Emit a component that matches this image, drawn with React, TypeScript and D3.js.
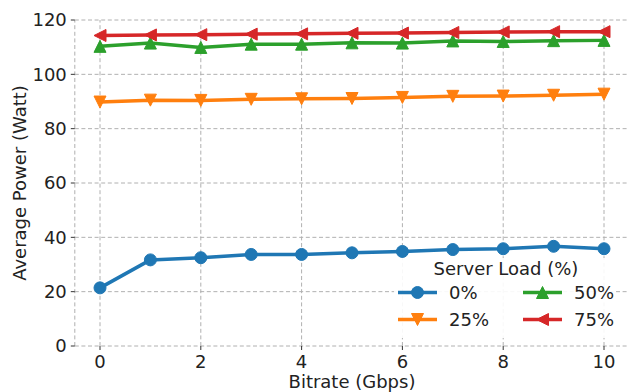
import React from "react";
import * as d3 from "d3";

const bitrates = [0, 1, 2, 3, 4, 5, 6, 7, 8, 9, 10];
const load0 = [21.4, 31.7, 32.5, 33.7, 33.7, 34.3, 34.8, 35.5, 35.8, 36.7, 35.8];
const load25 = [89.8, 90.5, 90.4, 90.8, 91.0, 91.1, 91.5, 91.9, 92.0, 92.3, 92.7];
const load50 = [110.3, 111.5, 109.9, 111.1, 111.1, 111.6, 111.5, 112.3, 112.1, 112.4, 112.5];
const load75 = [114.3, 114.5, 114.6, 114.8, 114.9, 115.1, 115.2, 115.4, 115.6, 115.7, 115.7];
const xTicks = [0, 2, 4, 6, 8, 10];
const yTicks = [0, 20, 40, 60, 80, 100, 120];

const series = [
  { name: "0%", values: load0, color: "#1f77b4", marker: "circle" },
  { name: "25%", values: load25, color: "#ff7f0e", marker: "down" },
  { name: "50%", values: load50, color: "#2ca02c", marker: "up" },
  { name: "75%", values: load75, color: "#d62728", marker: "left" },
];

const W = 628;
const H = 392;
const FONT = "DejaVu Sans, sans-serif";
const FS = 18;

const x = d3.scaleLinear().domain([-0.5, 10.5]).range([74.8, 629.2]);
const y = d3.scaleLinear().domain([0, 120]).range([346, 20]);

function Marker({ kind, cx, cy, color }: { kind: string; cx: number; cy: number; color: string }) {
  const r = 6;
  if (kind === "circle") {
    return <circle cx={cx} cy={cy} r={r} fill={color} stroke={color} strokeWidth={1} />;
  }
  let pts: [number, number][];
  if (kind === "up") pts = [[0, -r], [-r, r], [r, r]];
  else if (kind === "down") pts = [[0, r], [-r, -r], [r, -r]];
  else pts = [[-r, 0], [r, -r], [r, r]];
  const d = pts.map((p) => `${cx + p[0]},${cy + p[1]}`).join(" ");
  return <polygon points={d} fill={color} stroke={color} strokeWidth={1} strokeLinejoin="miter" />;
}

export default function App() {
  const line = d3
    .line<number>()
    .x((_, i) => x(bitrates[i]))
    .y((v) => y(v));

  const grid = { stroke: "#b0b0b0", strokeWidth: 1, strokeDasharray: "4,2.6" };

  const legendCols = [398, 523];
  const legendRows = [292.5, 319.5];

  return (
    <svg width={W} height={H} style={{ position: "absolute", left: 0, top: 0 }} fontFamily={FONT}>
      <rect width={W} height={H} fill="white" />
      {/* grid */}
      {yTicks.map((t) => (
        <line key={"gy" + t} x1={x.range()[0]} x2={x.range()[1]} y1={y(t)} y2={y(t)} {...grid} />
      ))}
      {xTicks.map((t) => (
        <line key={"gx" + t} x1={x(t)} x2={x(t)} y1={y.range()[0]} y2={y.range()[1]} {...grid} />
      ))}
      {/* dashed frame */}
      <line x1={x.range()[0]} x2={x.range()[0]} y1={y.range()[0]} y2={y.range()[1]} {...grid} />
      <line x1={x.range()[1]} x2={x.range()[1]} y1={y.range()[0]} y2={y.range()[1]} {...grid} />

      {/* ticks */}
      {yTicks.map((t) => (
        <g key={"ty" + t}>
          <line x1={x.range()[0] - 4} x2={x.range()[0]} y1={y(t)} y2={y(t)} stroke="#333" strokeWidth={1} />
          <text x={x.range()[0] - 8} y={y(t)} dy="0.36em" textAnchor="end" fontSize={FS} fill="#222">
            {t}
          </text>
        </g>
      ))}
      {xTicks.map((t) => (
        <g key={"tx" + t}>
          <line x1={x(t)} x2={x(t)} y1={y.range()[0]} y2={y.range()[0] + 4} stroke="#333" strokeWidth={1} />
          <text x={x(t)} y={367.5} textAnchor="middle" fontSize={FS} fill="#222">
            {t}
          </text>
        </g>
      ))}

      {/* axis labels */}
      <text x={352} y={388} textAnchor="middle" fontSize={FS} fill="#222">
        Bitrate (Gbps)
      </text>
      <text transform={`translate(26,${y(60)}) rotate(-90)`} textAnchor="middle" fontSize={FS} fill="#222">
        Average Power (Watt)
      </text>

      {/* series */}
      {series.map((s) => (
        <g key={s.name}>
          <path d={line(s.values) || ""} fill="none" stroke={s.color} strokeWidth={3.5} strokeLinejoin="round" />
          {s.values.map((v, i) => (
            <Marker key={i} kind={s.marker} cx={x(bitrates[i])} cy={y(v)} color={s.color} />
          ))}
        </g>
      ))}

      {/* legend */}
      <rect x={394} y={258} width={222} height={80} fill="white" fillOpacity={0.9} />
      <text x={506} y={274.5} textAnchor="middle" fontSize={FS} fill="#222">
        Server Load (%)
      </text>
      {series.map((s, i) => {
        const cx = legendCols[Math.floor(i / 2)];
        const cy = legendRows[i % 2];
        return (
          <g key={"lg" + s.name}>
            <line x1={cx} x2={cx + 39} y1={cy} y2={cy} stroke={s.color} strokeWidth={3.5} />
            <Marker kind={s.marker} cx={cx + 19.5} cy={cy} color={s.color} />
            <text x={cx + 51} y={cy} dy="0.36em" fontSize={FS} fill="#222">
              {s.name}
            </text>
          </g>
        );
      })}
    </svg>
  );
}
